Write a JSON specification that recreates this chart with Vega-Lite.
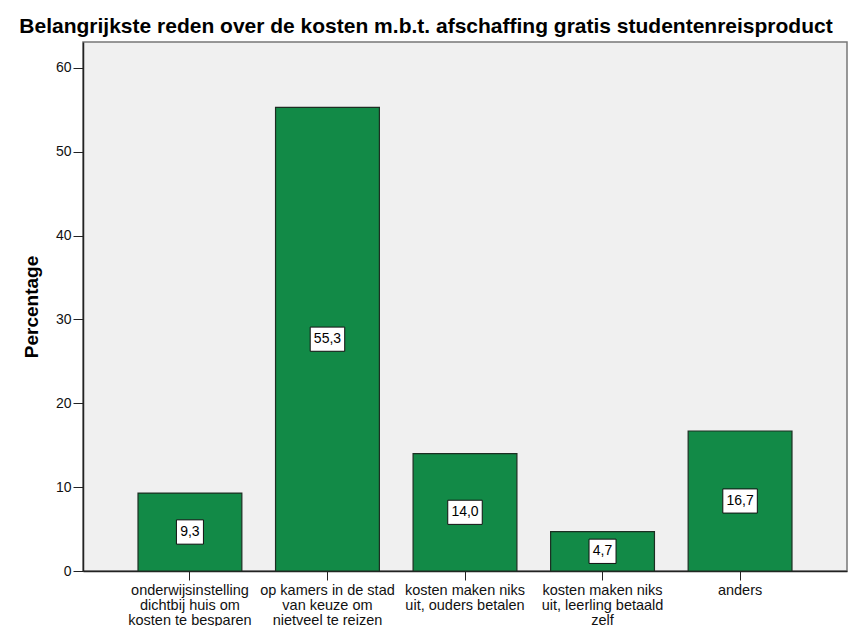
{
  "$schema": "https://vega.github.io/schema/vega-lite/v6.json",
  "autosize": "none",
  "width": 764,
  "height": 529,
  "padding": {"left": 83, "top": 42, "right": 6, "bottom": 55},
  "background": "white",
  "config": {
    "font": "Liberation Sans",
    "locale": {"number": {"decimal": ",", "thousands": ".", "grouping": [3], "currency": ["€", ""]}},
    "view": {"fill": "#f0f0f0", "stroke": "#777777", "strokeWidth": 1.5}
  },
  "title": {
    "text": "Belangrijkste reden over de kosten m.b.t. afschaffing gratis studentenreisproduct",
    "font": "Liberation Sans",
    "fontSize": 21,
    "fontWeight": "bold",
    "color": "#000000",
    "anchor": "middle",
    "frame": "group",
    "dx": -39,
    "offset": 5
  },
  "data": {
    "values": [
      {"reden": "onderwijsinstelling dichtbij huis om kosten te besparen", "pct": 9.3},
      {"reden": "op kamers in de stad van keuze om nietveel te reizen", "pct": 55.3},
      {"reden": "kosten maken niks uit, ouders betalen", "pct": 14.0},
      {"reden": "kosten maken niks uit, leerling betaald zelf", "pct": 4.7},
      {"reden": "anders", "pct": 16.7}
    ]
  },
  "encoding": {
    "x": {
      "field": "reden",
      "type": "nominal",
      "sort": null,
      "scale": {"paddingInner": 0.245, "paddingOuter": 0.4},
      "axis": {
        "title": null,
        "labelAngle": 0,
        "labelFont": "Liberation Sans",
        "labelFontSize": 14.5,
        "labelColor": "#111111",
        "labelLineHeight": 15,
        "labelPadding": 3,
        "labelLimit": 0,
        "tickSize": 9,
        "tickColor": "#222222",
        "domainColor": "#222222",
        "domainWidth": 1.5,
        "labelExpr": "datum.value == 'onderwijsinstelling dichtbij huis om kosten te besparen' ? ['onderwijsinstelling', 'dichtbij huis om', 'kosten te besparen'] : datum.value == 'op kamers in de stad van keuze om nietveel te reizen' ? ['op kamers in de stad', 'van keuze om', 'nietveel te reizen'] : datum.value == 'kosten maken niks uit, ouders betalen' ? ['kosten maken niks', 'uit, ouders betalen'] : datum.value == 'kosten maken niks uit, leerling betaald zelf' ? ['kosten maken niks', 'uit, leerling betaald', 'zelf'] : datum.value"
      }
    }
  },
  "layer": [
    {
      "mark": {"type": "bar", "fill": "#128a47", "stroke": "#1c2e22", "strokeWidth": 1.2},
      "encoding": {
        "y": {
          "field": "pct",
          "type": "quantitative",
          "scale": {"domain": [0, 63.1], "nice": false},
          "axis": {
            "title": "Percentage",
            "titleFont": "Liberation Sans",
            "titleFontSize": 19,
            "titleFontWeight": "bold",
            "titleColor": "#000000",
            "titlePadding": 14,
            "values": [0, 10, 20, 30, 40, 50, 60],
            "grid": false,
            "labelFont": "Liberation Sans",
            "labelFontSize": 14,
            "labelColor": "#111111",
            "labelPadding": 2,
            "tickSize": 10,
            "tickColor": "#222222",
            "domainColor": "#222222",
            "domainWidth": 1.5
          }
        }
      }
    },
    {
      "transform": [{"filter": "datum.pct < 10"}],
      "mark": {"type": "point", "shape": "M-1,-0.9L1,-0.9L1,0.9L-1,0.9Z", "size": 729, "filled": true, "fill": "white", "stroke": "#111111", "strokeWidth": 1, "opacity": 1},
      "encoding": {
        "y": {"field": "pct", "type": "quantitative", "scale": {"domain": [0, 126.2], "nice": false}, "axis": null}
      }
    },
    {
      "transform": [{"filter": "datum.pct >= 10"}],
      "mark": {"type": "point", "shape": "M-1,-0.7L1,-0.7L1,0.7L-1,0.7Z", "size": 1190, "filled": true, "fill": "white", "stroke": "#111111", "strokeWidth": 1, "opacity": 1},
      "encoding": {
        "y": {"field": "pct", "type": "quantitative", "scale": {"domain": [0, 126.2], "nice": false}, "axis": null}
      }
    },
    {
      "mark": {"type": "text", "font": "Liberation Sans", "fontSize": 14, "color": "#000000", "baseline": "middle", "align": "center"},
      "encoding": {
        "y": {"field": "pct", "type": "quantitative", "scale": {"domain": [0, 126.2], "nice": false}, "axis": null},
        "text": {"field": "pct", "type": "quantitative", "format": ".1f"}
      }
    }
  ],
  "resolve": {"scale": {"y": "independent"}}
}
